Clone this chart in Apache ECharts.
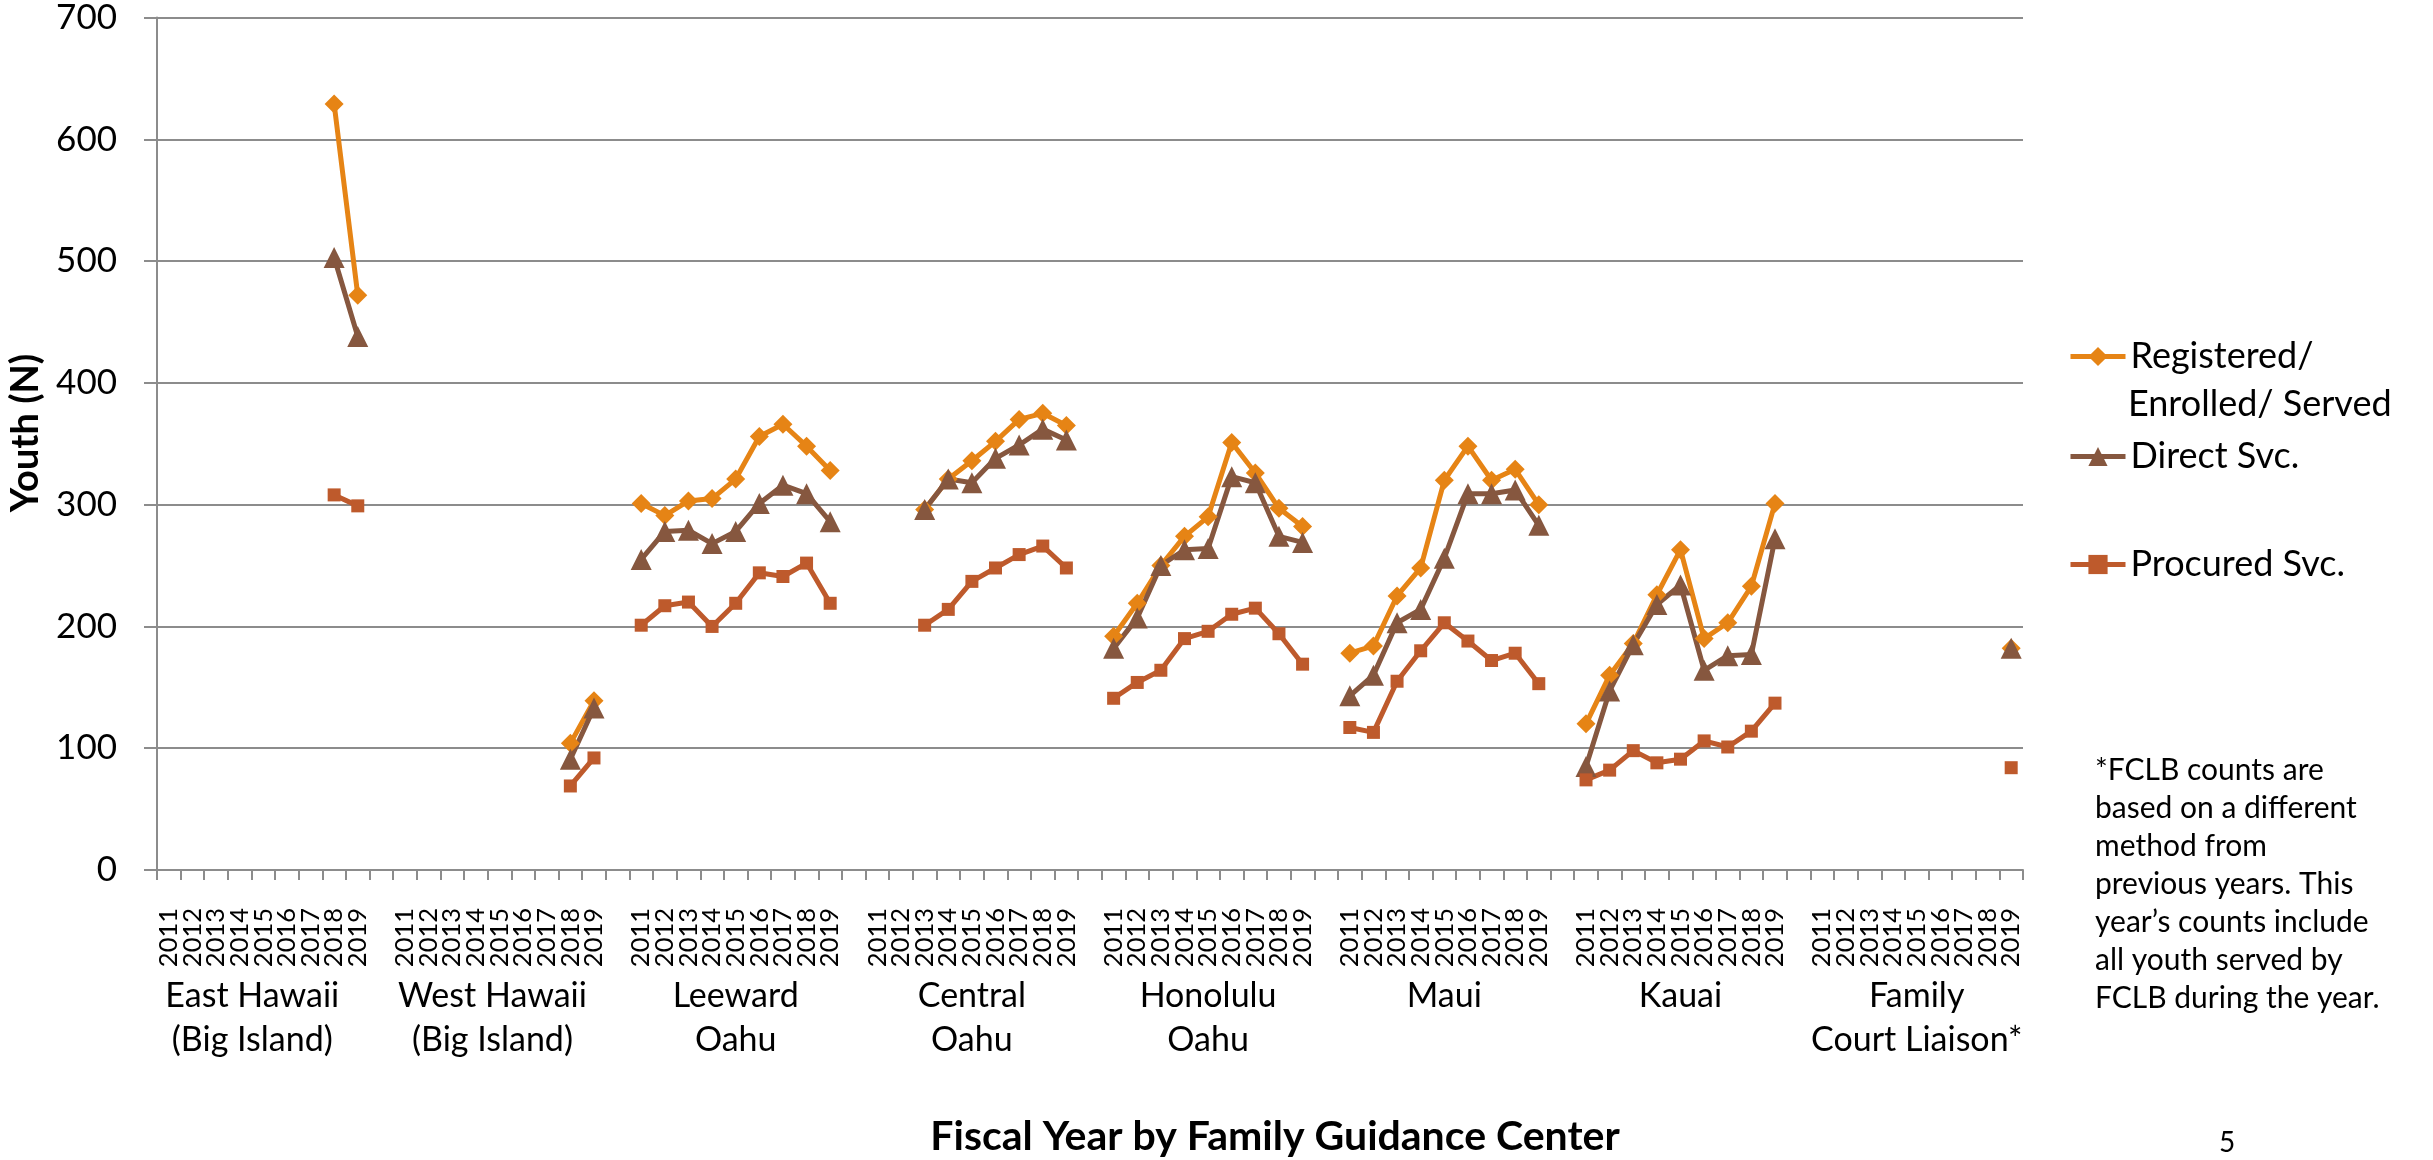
<!DOCTYPE html>
<html>
<head>
<meta charset="utf-8">
<script src="https://cdn.jsdelivr.net/npm/echarts@6/dist/echarts.min.js"></script>
<style>
  html, body { margin: 0; padding: 0; background: #fff; }
  #chart { width: 2433px; height: 1160px; }
</style>
</head>
<body>
<div id="chart"></div>
<script>
// centers and fiscal years
const groups = ['East Hawaii\n(Big Island)', 'West Hawaii\n(Big Island)', 'Leeward\nOahu', 'Central\nOahu',
  'Honolulu\nOahu', 'Maui', 'Kauai', 'Family\nCourt Liaison*']
const years = ['2011', '2012', '2013', '2014', '2015', '2016', '2017', '2018', '2019']
const yTicks = [0, 100, 200, 300, 400, 500, 600, 700]

// one row per center, one value per year (null = no data)
const registered = [
  [null, null, null, null, null, null, null, 629, 472],
  [null, null, null, null, null, null, null, 104, 139],
  [301, 291, 303, 305, 321, 356, 366, 348, 328],
  [null, null, 296, 321, 336, 352, 370, 375, 365],
  [192, 219, 250, 274, 290, 351, 326, 297, 282],
  [178, 184, 225, 248, 320, 348, 320, 329, 300],
  [120, 160, 186, 226, 263, 190, 203, 233, 301],
  [null, null, null, null, null, null, null, null, 182]
]
const direct = [
  [null, null, null, null, null, null, null, 503, 438],
  [null, null, null, null, null, null, null, 91, 133],
  [255, 278, 279, 268, 278, 301, 316, 309, 286],
  [null, null, 296, 321, 318, 338, 349, 362, 353],
  [182, 207, 250, 263, 264, 323, 318, 274, 269],
  [143, 160, 203, 214, 256, 309, 309, 312, 283],
  [85, 147, 185, 218, 234, 164, 176, 177, 272],
  [null, null, null, null, null, null, null, null, 182]
]
const procured = [
  [null, null, null, null, null, null, null, 308, 299],
  [null, null, null, null, null, null, null, 69, 92],
  [201, 217, 220, 200, 219, 244, 241, 252, 219],
  [null, null, 201, 214, 237, 248, 259, 266, 248],
  [141, 154, 164, 190, 196, 210, 215, 194, 169],
  [117, 113, 155, 180, 203, 188, 172, 178, 153],
  [74, 82, 98, 88, 91, 106, 101, 114, 137],
  [null, null, null, null, null, null, null, null, 84]
]

const font = 'Lato'
const gridColor = '#8c8c8c'

// flatten: 9 years per center, one empty slot between centers
const categories = []
const groupLabels = []
groups.forEach((g, gi) => {
  years.forEach((y, yi) => {
    categories.push(y)
    groupLabels.push(yi === 4 ? g : '')
  })
  if (gi < groups.length - 1) {
    categories.push('')
    groupLabels.push('')
  }
})
function flat(rows) {
  const out = []
  rows.forEach((r, gi) => {
    r.forEach((v) => out.push(v))
    if (gi < rows.length - 1) out.push(null)
  })
  return out
}

const chart = echarts.init(document.getElementById('chart'))

function legendAt(name, top, label) {
  return {
    data: [name],
    left: 2063,
    top: top,
    itemWidth: 55,
    itemHeight: 24,
    itemGap: 0,
    selectedMode: false,
    lineStyle: { width: 5 },
    formatter: label ? () => label : null,
    textStyle: { fontFamily: font, fontSize: 36, color: '#000', lineHeight: 51 }
  }
}

const lineSeries = (name, data, color, symbol, size) => ({
  name: name,
  type: 'line',
  data: data,
  connectNulls: false,
  showAllSymbol: true,
  symbol: symbol,
  symbolSize: size,
  itemStyle: { color: color },
  lineStyle: { color: color, width: 5 },
  emphasis: { disabled: true },
  animation: false
})

chart.setOption({
  backgroundColor: '#fff',
  textStyle: { fontFamily: font },
  grid: { left: 157, right: 410, top: 11, bottom: 290, containLabel: false },
  legend: [
    legendAt('Registered/ Enrolled/ Served', 326, 'Registered/'),
    legendAt('Direct Svc.', 426),
    legendAt('Procured Svc.', 534)
  ],
  xAxis: [
    {
      type: 'category',
      data: categories,
      boundaryGap: true,
      axisLine: { lineStyle: { color: gridColor, width: 2 } },
      axisTick: { show: true, interval: 0, length: 10, lineStyle: { color: gridColor, width: 2 } },
      axisLabel: { interval: 0, rotate: 90, margin: 38, fontFamily: font, fontSize: 25.5, color: '#000' },
      splitLine: { show: false }
    },
    {
      type: 'category',
      data: groupLabels,
      position: 'bottom',
      boundaryGap: true,
      axisLine: { show: false },
      axisTick: { show: false },
      axisLabel: {
        interval: 0,
        margin: 104,
        fontFamily: font,
        fontSize: 34,
        lineHeight: 44,
        color: '#000',
        // the two Big Island labels sit a bit left of center
        formatter: (v) => {
          if (v.indexOf('Big Island') < 0) return v
          const pad = v.indexOf('East') === 0 ? 'e' : 'w'
          return v.split('\n').map((s) => '{' + pad + '|' + s + '}').join('\n')
        },
        rich: {
          e: { fontFamily: font, fontSize: 34, lineHeight: 44, padding: [0, 22, 0, 0] },
          w: { fontFamily: font, fontSize: 34, lineHeight: 44, padding: [0, 14, 0, 0] }
        }
      },
      splitLine: { show: false }
    }
  ],
  yAxis: {
    type: 'value',
    min: yTicks[0],
    max: yTicks[yTicks.length - 1],
    interval: 100,
    axisLine: { show: true, lineStyle: { color: gridColor, width: 2 } },
    axisTick: { show: true, length: 13, lineStyle: { color: gridColor, width: 2 } },
    axisLabel: { margin: 40, fontFamily: font, fontSize: 35, color: '#000' },
    splitLine: { lineStyle: { color: gridColor, width: 2 } }
  },
  series: [
    lineSeries('Registered/ Enrolled/ Served', flat(registered), '#E68415', 'diamond', 19),
    lineSeries('Direct Svc.', flat(direct), '#86573F', 'triangle', 21),
    lineSeries('Procured Svc.', flat(procured), '#BE5A2C', 'rect', 13)
  ],
  graphic: [
    {
      type: 'text',
      x: 2128,
      y: 404,
      style: { text: 'Enrolled/ Served', font: '36px ' + font, fill: '#000', textVerticalAlign: 'middle' }
    },
    {
      type: 'text',
      x: 26,
      y: 433,
      rotation: Math.PI / 2,
      style: { text: 'Youth (N)', font: 'bold 38px ' + font, fill: '#000', textAlign: 'center', textVerticalAlign: 'middle' }
    },
    {
      type: 'text',
      x: 1275,
      y: 1137,
      style: { text: 'Fiscal Year by Family Guidance Center', font: 'bold 41px ' + font, fill: '#000', textAlign: 'center', textVerticalAlign: 'middle' }
    },
    {
      type: 'text',
      left: 2095,
      top: 751,
      style: {
        text: '*FCLB counts are\nbased on a different\nmethod from\nprevious years. This\nyear\u2019s counts include\nall youth served by\nFCLB during the year.',
        font: '30px ' + font,
        lineHeight: 38,
        fill: '#000'
      }
    },
    {
      type: 'text',
      x: 2227,
      y: 1143,
      style: { text: '5', font: '28px ' + font, fill: '#000', textAlign: 'center', textVerticalAlign: 'middle' }
    }
  ]
})
</script>
</body>
</html>
